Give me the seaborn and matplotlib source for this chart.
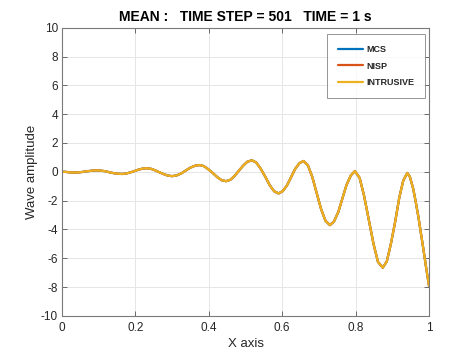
import matplotlib
matplotlib.use("Agg")
import matplotlib.pyplot as plt
import seaborn as sns
import pandas as pd

# values (mean wave at t = 1 s)
x_pos = [0.000, 0.006, 0.012, 0.018, 0.023, 0.029, 0.035,
         0.045, 0.055, 0.065, 0.075, 0.085, 0.095,
         0.106, 0.118, 0.129, 0.140, 0.152, 0.163,
         0.174, 0.185, 0.197, 0.208, 0.219, 0.230,
         0.242, 0.253, 0.265, 0.277, 0.288, 0.300,
         0.312, 0.325, 0.337, 0.349, 0.362, 0.374,
         0.386, 0.398, 0.411, 0.423, 0.435, 0.447,
         0.459, 0.470, 0.482, 0.494, 0.505, 0.517,
         0.529, 0.541, 0.554, 0.566, 0.578, 0.590,
         0.601, 0.613, 0.624, 0.635, 0.647, 0.658,
         0.670, 0.682, 0.694, 0.706, 0.718, 0.730,
         0.741, 0.753, 0.764, 0.775, 0.787, 0.798,
         0.811, 0.823, 0.836, 0.849, 0.861, 0.874,
         0.885, 0.896, 0.908, 0.919, 0.930, 0.941,
         0.948, 0.957, 0.964, 0.971, 0.978, 0.985, 0.992, 1.000]

wave = [0.00, 0.00, -0.01, -0.03, -0.04, -0.05, -0.05,
        -0.04, -0.01, 0.03, 0.06, 0.09, 0.10,
        0.08, 0.04, -0.03, -0.09, -0.13, -0.15,
        -0.12, -0.05, 0.05, 0.15, 0.22, 0.25,
        0.21, 0.11, -0.03, -0.16, -0.26, -0.30,
        -0.25, -0.11, 0.09, 0.28, 0.42, 0.47,
        0.40, 0.19, -0.09, -0.37, -0.58, -0.65,
        -0.55, -0.29, 0.08, 0.44, 0.70, 0.80,
        0.65, 0.23, -0.35, -0.93, -1.35, -1.50,
        -1.35, -0.94, -0.38, 0.19, 0.60, 0.75,
        0.45, -0.36, -1.48, -2.59, -3.40, -3.70,
        -3.45, -2.78, -1.85, -0.93, -0.25, 0.05,
        -0.42, -1.65, -3.33, -5.02, -6.25, -6.65,
        -6.22, -5.02, -3.45, -1.80, -0.60, -0.08,
        -0.35, -1.17, -2.10, -3.10, -4.25, -5.40, -6.60, -7.90]

mcs = wave
nisp = wave
intrusive = wave

methods = ["MCS", "NISP", "INTRUSIVE"]
colors = ["#0072BD", "#D95319", "#EDB120"]

x_ticks = [0, 0.2, 0.4, 0.6, 0.8, 1]
x_tick_labels = ["0", "0.2", "0.4", "0.6", "0.8", "1"]
y_ticks = list(range(-10, 11, 2))

df = pd.concat([
    pd.DataFrame({"x": x_pos, "amp": mcs, "method": "MCS"}),
    pd.DataFrame({"x": x_pos, "amp": nisp, "method": "NISP"}),
    pd.DataFrame({"x": x_pos, "amp": intrusive, "method": "INTRUSIVE"}),
])

sns.set_theme(style="whitegrid")
plt.rcParams["font.family"] = ["Liberation Sans", "DejaVu Sans"]
plt.rcParams["axes.unicode_minus"] = False

fig = plt.figure(figsize=(4.74, 3.55), dpi=100)
ax = fig.add_axes([0.131, 0.110, 0.774, 0.812])

sns.lineplot(data=df, x="x", y="amp", hue="method", hue_order=methods,
             palette=colors, linewidth=1.6, sort=False, ax=ax,
             estimator=None)

ax.set_xlim(0, 1)
ax.set_ylim(-10, 10)
ax.set_xticks(x_ticks)
ax.set_xticklabels(x_tick_labels)
ax.set_yticks(y_ticks)

ax.set_title("MEAN :   TIME STEP = 501   TIME = 1 s", fontsize=10,
             fontweight="bold", color="black", pad=5)
ax.set_xlabel("X axis", fontsize=9.5, color="#262626", labelpad=2.5)
ax.set_ylabel("Wave amplitude", fontsize=9.5, color="#262626", labelpad=2)

ax.set_facecolor("white")
ax.grid(True, color="#e6e6e6", linewidth=0.7)
for side in ["left", "right", "top", "bottom"]:
    ax.spines[side].set_visible(True)
    ax.spines[side].set_color("#7a7a7a")
    ax.spines[side].set_linewidth(0.8)
ax.tick_params(axis="both", which="both", direction="in", length=3.5,
               width=0.6, color="#555555", labelsize=8.5,
               labelcolor="#262626", top=True, right=True,
               bottom=True, left=True)
ax.tick_params(axis="x", pad=4.5)
ax.tick_params(axis="y", pad=3)

leg = ax.legend(loc="upper right", bbox_to_anchor=(0.989, 0.978),
                borderaxespad=0, frameon=True, fancybox=False,
                prop={"size": 6.5, "weight": "bold"},
                handlelength=2.8, handletextpad=0.35, labelspacing=0.85,
                borderpad=1.2)
leg.get_frame().set_edgecolor("#7a7a7a")
leg.get_frame().set_linewidth(0.7)
for line in leg.get_lines():
    line.set_linewidth(1.6)

fig.savefig("out.png", dpi=100)
